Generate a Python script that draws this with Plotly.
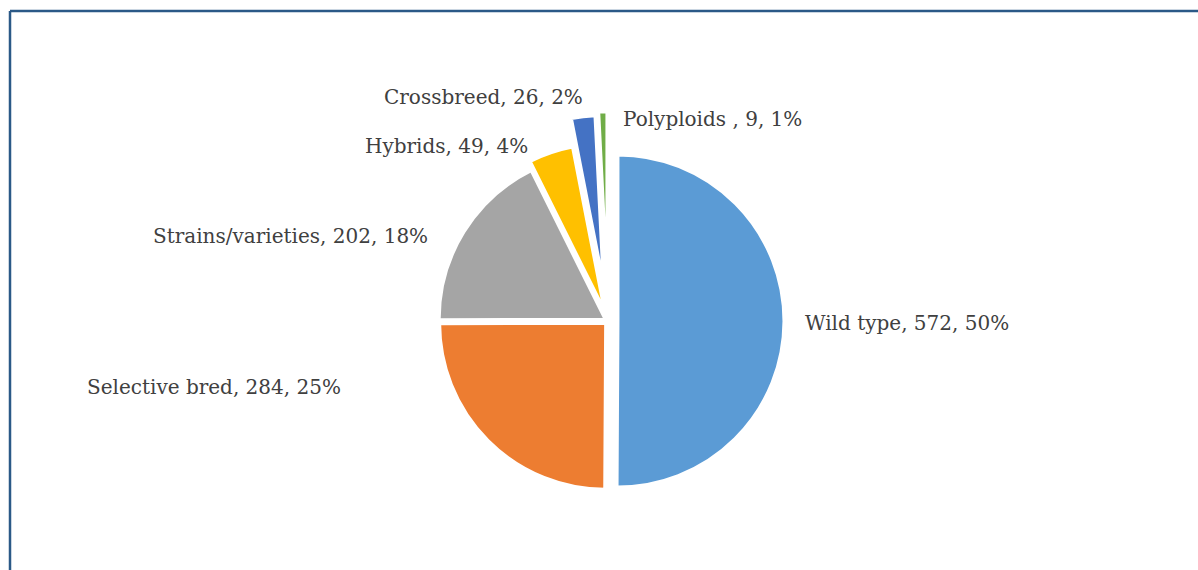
import plotly.graph_objects as go

W, H = 1198, 570

categories = ["Wild type", "Selective bred", "Strains/varieties", "Hybrids", "Crossbreed", "Polyploids "]
values = [572, 284, 202, 49, 26, 9]
colors = ["#5B9BD5", "#ED7D31", "#A5A5A5", "#FFC000", "#4472C4", "#70AD47"]
pulls = [0.06, 0.02, 0.02, 0.07, 0.24, 0.26]

total = sum(values)
label_texts = [f"{c}, {v}, {round(100 * v / total)}%" for c, v in zip(categories, values)]

# label anchor positions in pixels (x, y from top, xanchor)
label_pos = [
    (803, 323, "left"),
    (343, 387, "right"),
    (430, 236, "right"),
    (530, 146, "right"),
    (585, 97, "right"),
    (621, 119, "left"),
]

# pie geometry (pixels)
cx, cy, r = 608, 321, 166
half = r * (1 + max(pulls))
dom_x = [(cx - half) / W, (cx + half) / W]
dom_y = [(H - cy - half) / H, (H - cy + half) / H]

fig = go.Figure(
    go.Pie(
        labels=categories,
        values=values,
        marker=dict(colors=colors, line=dict(color="white", width=3)),
        pull=pulls,
        sort=False,
        direction="clockwise",
        rotation=0,
        textinfo="none",
        hoverinfo="label+value+percent",
        domain=dict(x=dom_x, y=dom_y),
        showlegend=False,
    )
)

annotations = []
for txt, (px, py, anchor) in zip(label_texts, label_pos):
    annotations.append(
        dict(
            x=px / W,
            y=1 - py / H,
            xref="paper",
            yref="paper",
            text=txt,
            showarrow=False,
            xanchor=anchor,
            yanchor="middle",
            font=dict(family="DejaVu Serif", size=20, color="#404040"),
        )
    )

bx, by = 10 / W, 1 - 11 / H
border = dict(color="#2B5987", width=2.5)
fig.update_layout(
    width=W,
    height=H,
    margin=dict(l=0, r=0, t=0, b=0),
    paper_bgcolor="white",
    plot_bgcolor="white",
    annotations=annotations,
    shapes=[
        dict(type="line", xref="paper", yref="paper", x0=bx, x1=1.0, y0=by, y1=by, line=border),
        dict(type="line", xref="paper", yref="paper", x0=bx, x1=bx, y0=0.0, y1=by, line=border),
    ],
)

fig.write_html(
    "out.html",
    config={"displayModeBar": False},
    post_script="document.body.style.margin='0';document.body.style.overflow='hidden';",
)
